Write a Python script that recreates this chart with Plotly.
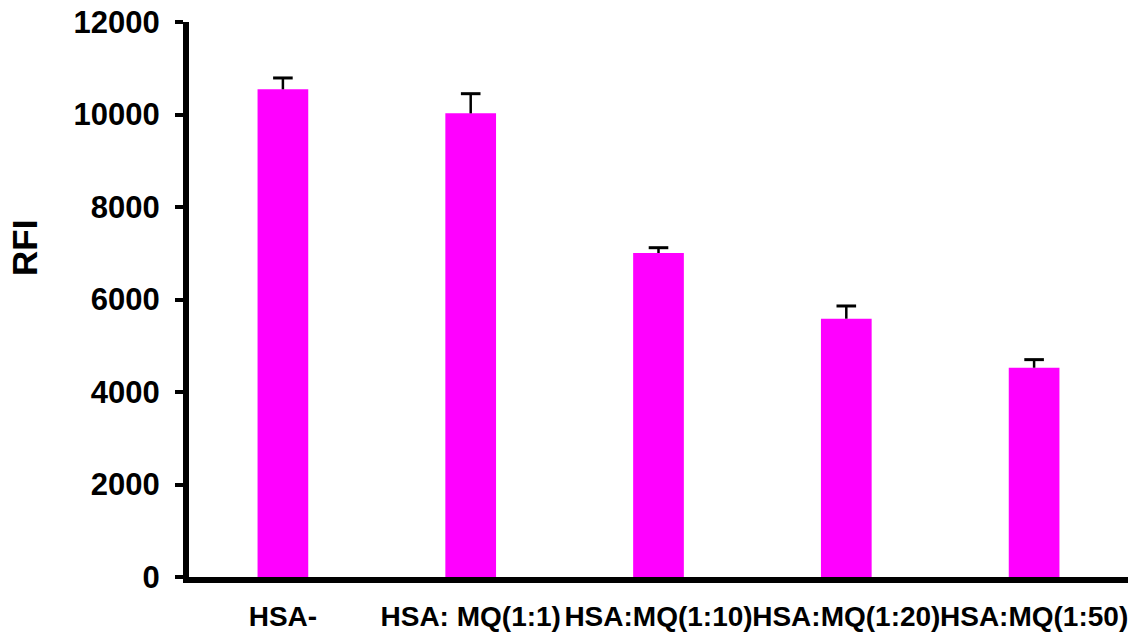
import plotly.graph_objects as go

categories = ["HSA-", "HSA: MQ(1:1)", "HSA:MQ(1:10)", "HSA:MQ(1:20)", "HSA:MQ(1:50)"]
values = [10545, 10025, 7005, 5585, 4525]
errors = [245, 425, 115, 275, 175]
y_ticks = [0, 2000, 4000, 6000, 8000, 10000, 12000]
y_tick_labels = ["0", "2000", "4000", "6000", "8000", "10000", "12000"]

FONT = "Arial, Liberation Sans, sans-serif"

tops = [v + e for v, e in zip(values, errors)]

fig = go.Figure()
fig.add_trace(go.Bar(
    x=categories, y=values, width=0.27,
    marker=dict(color="#FF00FF", line=dict(width=0)),
    error_y=dict(type="data", symmetric=False, array=errors,
                 arrayminus=[0] * len(values), width=0,
                 thickness=2.5, color="black"),
    showlegend=False,
))
fig.add_trace(go.Scatter(
    x=categories, y=tops, mode="markers",
    marker=dict(symbol="line-ew", size=14, color="black",
                line=dict(width=3, color="black")),
    showlegend=False, hoverinfo="skip",
))

fig.update_layout(
    width=1131, height=632,
    margin=dict(l=189, r=3, t=22, b=55, autoexpand=False),
    paper_bgcolor="white", plot_bgcolor="white",
    font=dict(family=FONT, color="black"),
    xaxis=dict(
        type="category", showline=True, linewidth=6, linecolor="black",
        ticks="", showgrid=False, zeroline=False, tickangle=0,
        automargin=False,
        tickfont=dict(family=FONT, size=28, color="black", weight="bold"),
        ticklabelstandoff=9,
    ),
    yaxis=dict(
        range=[0, 12000], tickvals=y_ticks, ticktext=y_tick_labels,
        showline=True, linewidth=6, automargin=False,
        linecolor="black", ticks="outside", ticklen=8, tickwidth=4,
        tickcolor="black", showgrid=False, zeroline=False,
        tickfont=dict(family=FONT, size=31, color="black", weight="bold"),
        ticklabelstandoff=9,
    ),
    annotations=[dict(
        text="RFI", xref="paper", yref="paper",
        x=(25 - 189) / 939, y=(577 - 248) / 555,
        xanchor="center", yanchor="middle", textangle=-90, showarrow=False,
        font=dict(family=FONT, size=35, color="black", weight="bold"),
    )],
)

fig.write_html(
    "out.html",
    config={"displayModeBar": False},
    post_script="document.body.style.margin='0';document.body.style.padding='0';",
)
